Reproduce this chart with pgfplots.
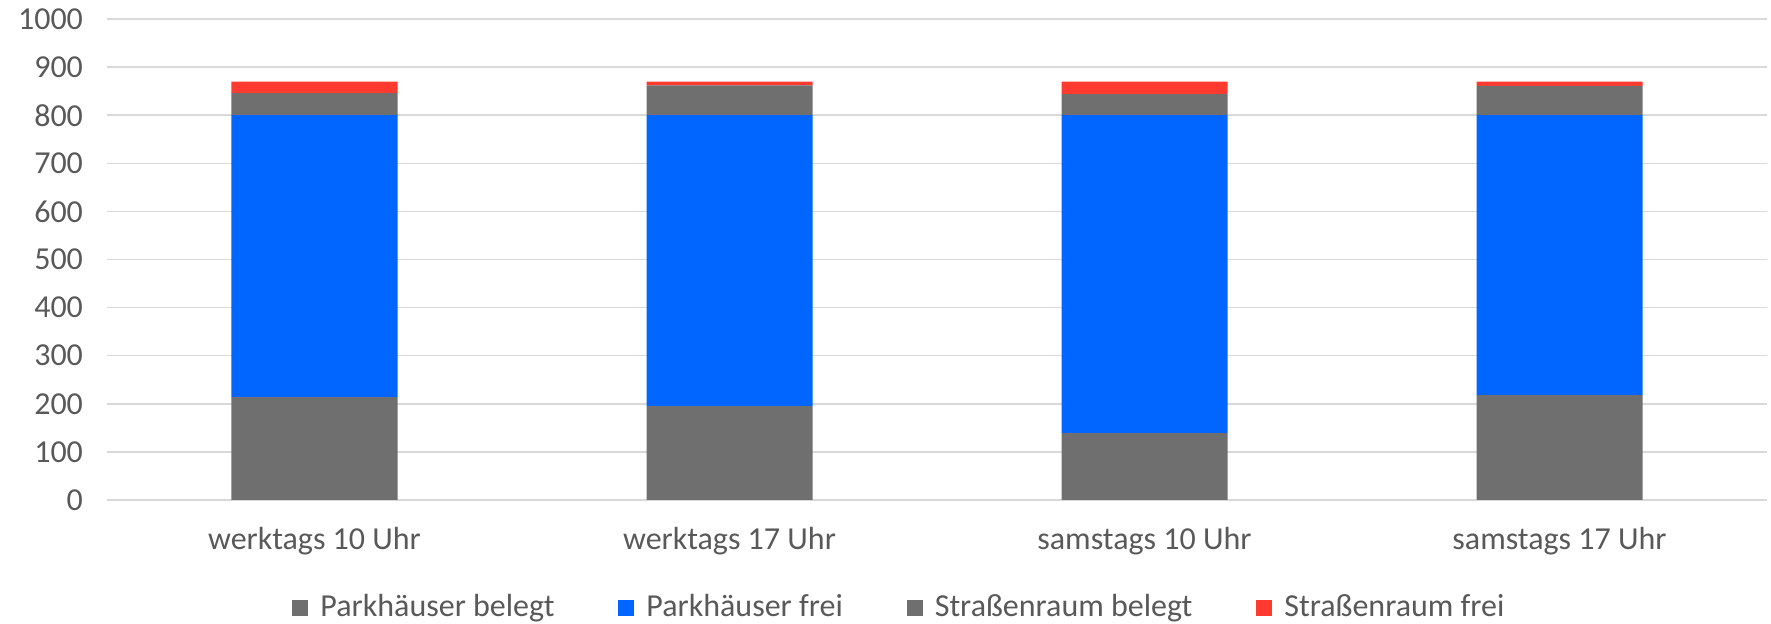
\documentclass[border=0pt]{standalone}
\usepackage{pgfplots}
\pgfplotsset{compat=1.18}
\usepackage{fontspec}
\setmainfont{Carlito}
\definecolor{cgrey}{HTML}{6F6F6F}
\definecolor{cblue}{HTML}{0066FF}
\definecolor{cred}{HTML}{FF3B30}
\definecolor{ctext}{HTML}{595959}
\definecolor{cgrid}{HTML}{D9D9D9}
\begin{document}
\fontsize{16pt}{19pt}\selectfont
\begin{tikzpicture}
\path[use as bounding box] (-53.5pt,-62pt) rectangle (832pt,250pt);
\begin{axis}[
  at={(0,0)}, anchor=south west,
  scale only axis, width=830pt, height=240.5pt,
  ybar stacked, bar width=83pt,
  xmin=-0.5, xmax=3.5, ymin=0, ymax=1000,
  xtick=data, xticklabels={werktags 10 Uhr, werktags 17 Uhr, samstags 10 Uhr, samstags 17 Uhr},
  ytick={0,100,...,1000},
  yticklabel style={/pgf/number format/1000 sep={}},
  ymajorgrids, grid style={cgrid, line width=0.75pt},
  axis line style={draw=none}, major tick length=0pt,
  tick label style={font=\fontsize{16pt}{19pt}\selectfont, text=ctext},
  /pgf/number format/assume math mode=true,
  yticklabel style={xshift=-6.5pt},
  xticklabel style={yshift=-8pt},
  legend columns=-1,
  legend style={draw=none, at={(0.478,-0.225)}, anchor=center, font=\fontsize{16pt}{19pt}\selectfont, text=ctext,
    /tikz/every even column/.append style={column sep=30pt},
    /tikz/every odd column/.append style={column sep=4pt}},
  legend image code/.code={\fill[#1] (0pt,-4pt) rectangle (8pt,4pt);},
]
\addplot[fill=cgrey, draw=none] coordinates {(0,214) (1,195) (2,139) (3,218)};
\addplot[fill=cblue, draw=none] coordinates {(0,586) (1,605) (2,661) (3,582)};
\addplot[fill=cgrey, draw=none] coordinates {(0,46) (1,62) (2,44) (3,61)};
\addplot[fill=cred, draw=none] coordinates {(0,24) (1,8) (2,26) (3,9)};
\legend{Parkhäuser belegt, Parkhäuser frei, Straßenraum belegt, Straßenraum frei}
\end{axis}
\end{tikzpicture}
\end{document}
